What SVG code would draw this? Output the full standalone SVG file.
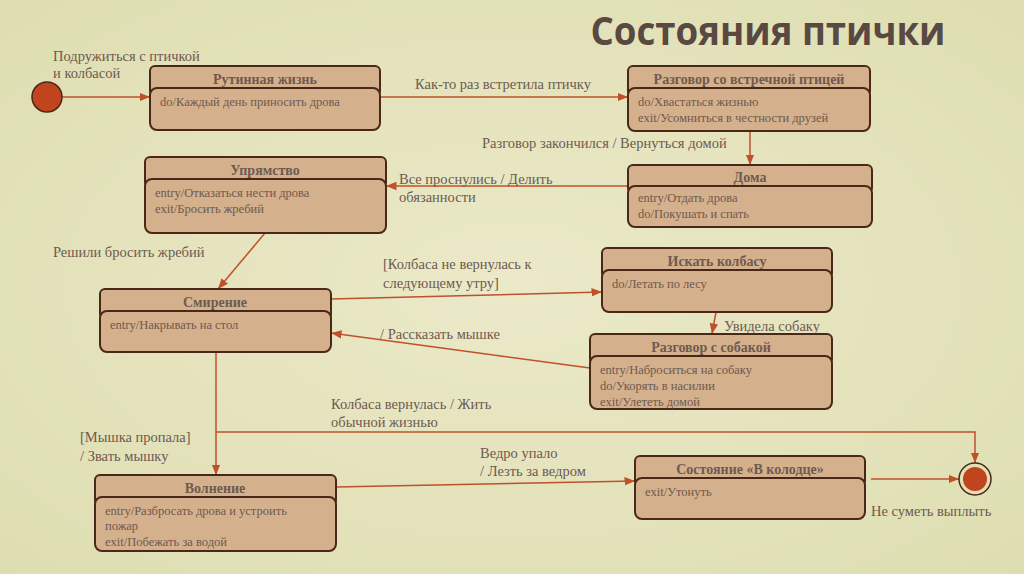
<svg xmlns="http://www.w3.org/2000/svg" width="1024" height="574" viewBox="0 0 1024 574">
<defs>
<marker id="ar" viewBox="0 0 10 10" refX="10" refY="5" markerWidth="7" markerHeight="7" orient="auto-start-reverse"><path d="M0,1 L10,5 L0,9 z" fill="#c0502a"/></marker>
<radialGradient id="bg" cx="0.5" cy="0.5" r="0.8"><stop offset="0" stop-color="#ebe9c8"/><stop offset="1" stop-color="#dcdcae"/></radialGradient>
</defs>
<style>
.h{fill:#d5b08c;stroke:#4a2818;stroke-width:2}
.t{font-family:"Liberation Serif","DejaVu Serif",serif;fill:#6e5a50}
.n{font-size:14px;font-weight:bold;text-anchor:middle}
.b{font-size:12.5px}
.l{font-size:14.5px}
.c{stroke:#c0502a;stroke-width:1.5;fill:none;marker-end:url(#ar)}
</style>
<rect width="1024" height="574" fill="url(#bg)"/>
<text x="768" y="45" font-family="'Open Sans','Noto Sans',sans-serif" font-weight="bold" font-size="40" fill="#5a4842" text-anchor="middle" textLength="355" lengthAdjust="spacingAndGlyphs">Состояния птички</text>

<g id="connectors">
<path class="c" d="M62,97 L150,97"/>
<path class="c" d="M380,97 L628,97"/>
<path class="c" d="M750,131 L750,165"/>
<path class="c" d="M628,186 L386,186"/>
<path class="c" d="M265,233 L218,289"/>
<path class="c" d="M331,299 L602,292"/>
<path class="c" d="M590,368 L331,333"/>
<path class="c" d="M716,312 L712,334"/>
<path class="c" d="M216,352 L216,475"/>
<path class="c" d="M216,432 L975,432 L975,463"/>
<path class="c" d="M336,487 L635,481"/>
<path class="c" d="M871,479 L959,479"/>
</g>
<g id="labels" class="t l">
<text x="53" y="61">Подружиться с птичкой</text>
<text x="53" y="78">и колбасой</text>
<text x="415" y="89">Как-то раз встретила птичку</text>
<text x="482" y="148">Разговор закончился / Вернуться домой</text>
<text x="399" y="184">Все проснулись / Делить</text>
<text x="399" y="202">обязанности</text>
<text x="53" y="257">Решили бросить жребий</text>
<text x="383" y="269">[Колбаса не вернулась к</text>
<text x="383" y="288">следующему утру]</text>
<text x="380" y="339">/ Рассказать мышке</text>
<text x="724" y="331">Увидела собаку</text>
<text x="331" y="409">Колбаса вернулась / Жить</text>
<text x="331" y="427">обычной жизнью</text>
<text x="80" y="442">[Мышка пропала]</text>
<text x="80" y="461">/ Звать мышку</text>
<text x="480" y="458">Ведро упало</text>
<text x="480" y="476">/ Лезть за ведром</text>
<text x="871" y="516">Не суметь выплыть</text>
</g>

<g id="initial"><circle cx="47" cy="97" r="15" fill="#c0441e" stroke="#4a2818" stroke-width="1.5"/></g>
<g id="final"><circle cx="975" cy="479" r="16" fill="none" stroke="#4a2818" stroke-width="1.5"/><circle cx="975" cy="479" r="12" fill="#c0441e"/></g>

<g id="n1"><rect class="h" x="150" y="66" width="230" height="30" rx="5"/><rect class="h" x="150" y="88" width="230" height="42" rx="7"/><text class="t n" x="265" y="84">Рутинная жизнь</text><text class="t b" x="160" y="106">do/Каждый день приносить дрова</text></g>
<g id="n2"><rect class="h" x="628" y="66" width="242" height="30" rx="5"/><rect class="h" x="628" y="88" width="242" height="43" rx="7"/><text class="t n" x="749" y="84">Разговор со встречной птицей</text><text class="t b" x="638" y="106">do/Хвастаться жизнью</text><text class="t b" x="638" y="122">exit/Усомниться в честности друзей</text></g>
<g id="n3"><rect class="h" x="145" y="157" width="241" height="30" rx="5"/><rect class="h" x="145" y="179" width="241" height="54" rx="7"/><text class="t n" x="265" y="175">Упрямство</text><text class="t b" x="155" y="197">entry/Отказаться нести дрова</text><text class="t b" x="155" y="213">exit/Бросить жребий</text></g>
<g id="n4"><rect class="h" x="628" y="165" width="244" height="28" rx="5"/><rect class="h" x="628" y="186" width="244" height="41" rx="7"/><text class="t n" x="750" y="182">Дома</text><text class="t b" x="638" y="202">entry/Отдать дрова</text><text class="t b" x="638" y="218">do/Покушать и спать</text></g>
<g id="n5"><rect class="h" x="100" y="289" width="231" height="30" rx="5"/><rect class="h" x="100" y="311" width="231" height="41" rx="7"/><text class="t n" x="215" y="307">Смирение</text><text class="t b" x="110" y="329">entry/Накрывать на стол</text></g>
<g id="n6"><rect class="h" x="602" y="248" width="230" height="30" rx="5"/><rect class="h" x="602" y="270" width="230" height="42" rx="7"/><text class="t n" x="717" y="266">Искать колбасу</text><text class="t b" x="612" y="288">do/Летать по лесу</text></g>
<g id="n7"><rect class="h" x="590" y="334" width="242" height="30" rx="5"/><rect class="h" x="590" y="356" width="242" height="53" rx="7"/><text class="t n" x="711" y="352">Разговор с собакой</text><text class="t b" x="600" y="374">entry/Наброситься на собаку</text><text class="t b" x="600" y="390">do/Укорять в насилии</text><text class="t b" x="600" y="406">exit/Улететь домой</text></g>
<g id="n8"><rect class="h" x="95" y="475" width="241" height="30" rx="5"/><rect class="h" x="95" y="497" width="241" height="54" rx="7"/><text class="t n" x="215" y="493">Волнение</text><text class="t b" x="105" y="515">entry/Разбросать дрова и устроить</text><text class="t b" x="105" y="530">пожар</text><text class="t b" x="105" y="546">exit/Побежать за водой</text></g>
<g id="n9"><rect class="h" x="635" y="456" width="230" height="30" rx="5"/><rect class="h" x="635" y="478" width="230" height="41" rx="7"/><text class="t n" x="750" y="474">Состояние «В колодце»</text><text class="t b" x="645" y="496">exit/Утонуть</text></g>
</svg>
